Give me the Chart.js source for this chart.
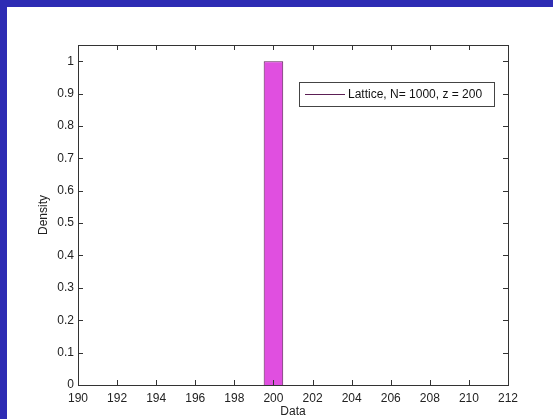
<!DOCTYPE html>
<html>
<head>
<meta charset="utf-8">
<script src="https://cdn.jsdelivr.net/npm/chart.js@4/dist/chart.umd.min.js"></script>
<style>
  html, body { margin: 0; padding: 0; background: #2e2cb4; width: 553px; height: 419px; overflow: hidden; }
  #wrap { position: absolute; left: 7px; top: 7px; width: 546px; height: 412px; background: #fff; }
</style>
</head>
<body>
<div id="wrap"><canvas id="hist" width="546" height="412"></canvas></div>
<script>
// ── données ─────────────────────────────────────────────
const BIN_CENTERS = [200];
const DENSITY     = [1];
const X_TICKS = [190, 192, 194, 196, 198, 200, 202, 204, 206, 208, 210, 212];
const Y_TICKS = [0, 0.1, 0.2, 0.3, 0.4, 0.5, 0.6, 0.7, 0.8, 0.9, 1];
const Y_LABELS = ['0', '0.1', '0.2', '0.3', '0.4', '0.5', '0.6', '0.7', '0.8', '0.9', '1'];
const SERIES_LABEL = 'Lattice, N= 1000, z = 200';

const FONT = { family: 'Liberation Sans, Arial, sans-serif', size: 12 };
const AXIS_COLOR = '#333';
const TICK_LEN = 5;

// cadre + graduations intérieures sur les 4 côtés
const boxTicks = {
  id: 'boxTicks',
  afterDatasetsDraw(chart) {
    const { ctx, chartArea: a, scales: { x, y } } = chart;
    ctx.save();
    ctx.strokeStyle = AXIS_COLOR;
    ctx.lineWidth = 1;
    ctx.beginPath();
    x.ticks.forEach(t => {
      const px = Math.round(x.getPixelForValue(t.value)) + 0.5;
      ctx.moveTo(px, a.bottom); ctx.lineTo(px, a.bottom - TICK_LEN);
      ctx.moveTo(px, a.top);    ctx.lineTo(px, a.top + TICK_LEN);
    });
    y.ticks.forEach(t => {
      const py = Math.round(y.getPixelForValue(t.value)) + 0.5;
      ctx.moveTo(a.left, py);  ctx.lineTo(a.left + TICK_LEN, py);
      ctx.moveTo(a.right, py); ctx.lineTo(a.right - TICK_LEN, py);
    });
    ctx.stroke();
    ctx.strokeRect(Math.round(a.left) + 0.5, Math.round(a.top) + 0.5,
                   Math.round(a.right - a.left), Math.round(a.bottom - a.top));

    // légende dans le cadre
    const lx = 292, ly = 75, lw = 195, lh = 24;
    ctx.fillStyle = '#fff';
    ctx.fillRect(lx, ly, lw, lh);
    ctx.strokeStyle = '#444';
    ctx.strokeRect(lx + 0.5, ly + 0.5, lw, lh);
    ctx.strokeStyle = '#5c1f55';
    ctx.beginPath();
    ctx.moveTo(lx + 6, ly + 12.5); ctx.lineTo(lx + 46, ly + 12.5);
    ctx.stroke();
    ctx.fillStyle = '#111';
    ctx.font = FONT.size + 'px ' + FONT.family;
    ctx.textBaseline = 'middle';
    ctx.fillText(chart.data.datasets[0].label, lx + 49, ly + 13);
    ctx.restore();
  }
};

new Chart(document.getElementById('hist'), {
  type: 'bar',
  data: {
    datasets: [{
      label: SERIES_LABEL,
      data: BIN_CENTERS.map((c, i) => ({ x: c, y: DENSITY[i] })),
      backgroundColor: '#e04fe0',
      borderColor: '#5c1f55',
      borderWidth: 1,
      barPercentage: 0.5,
      categoryPercentage: 1
    }]
  },
  options: {
    responsive: false,
    animation: false,
    layout: { padding: { top: 38, right: 45, left: 0, bottom: 0 } },
    plugins: { legend: { display: false }, tooltip: { enabled: false } },
    scales: {
      x: {
        type: 'linear', min: 190, max: 212, offset: false,
        afterBuildTicks: s => { s.ticks = X_TICKS.map(v => ({ value: v })); },
        afterFit: s => { s.height = 34; },
        grid: { display: false, drawTicks: false, offset: false },
        border: { display: false },
        ticks: { font: FONT, color: '#222', padding: 6, maxRotation: 0, autoSkip: false },
        title: { display: true, text: 'Data', font: FONT, color: '#222', padding: 0 }
      },
      y: {
        min: 0, max: 1.05,
        afterBuildTicks: s => { s.ticks = Y_TICKS.map(v => ({ value: v })); },
        afterFit: s => { s.width = 71; },
        grid: { display: false, drawTicks: false },
        border: { display: false },
        ticks: {
          font: FONT, color: '#222', padding: 4, autoSkip: false,
          callback: (v, i) => Y_LABELS[i]
        },
        title: { display: true, text: 'Density', font: FONT, color: '#222', padding: { top: 29, bottom: 0 } }
      }
    }
  },
  plugins: [boxTicks]
});
</script>
</body>
</html>
